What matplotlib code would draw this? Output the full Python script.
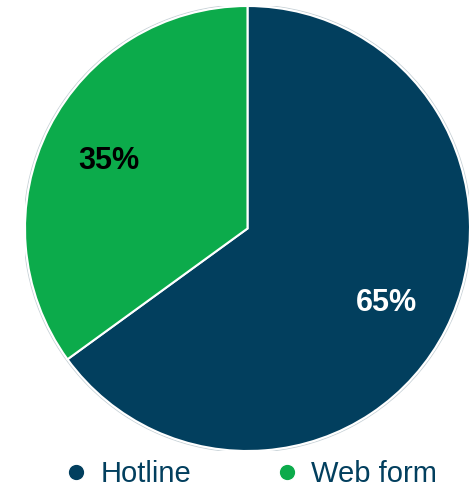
import matplotlib
matplotlib.use("Agg")
import matplotlib.pyplot as plt
from matplotlib.lines import Line2D
from matplotlib.patches import Circle

labels = ["Hotline", "Web form"]
shares = [65, 35]
colors = ["#023f5e", "#0cab4b"]
label_colors = ["white", "black"]
text_navy = "#023f5e"

plt.rcParams["font.family"] = ["Liberation Sans", "DejaVu Sans"]

fig = plt.figure(figsize=(4.69, 4.91), dpi=100)
ax = fig.add_axes([25 / 469, (491 - 451) / 491, 445 / 469, 445 / 491])

wedges, texts, autotexts = ax.pie(
    shares, colors=colors, startangle=90, counterclock=False,
    autopct="%d%%", pctdistance=0.70, radius=1,
    wedgeprops=dict(edgecolor="white", linewidth=1.5),
)
for t, c in zip(autotexts, label_colors):
    t.set_color(c)
    t.set_fontsize(22)
    t.set_fontweight("bold")
    x, y = t.get_position()
    t.set_position((x, y - 0.016))

ax.add_patch(Circle((0, 0), 1.006, fill=False, edgecolor="#c9d3d8", linewidth=0.8, zorder=0))
ax.set_xlim(-1.0, 1.0)
ax.set_ylim(-1.0, 1.0)
ax.set_aspect("equal")
ax.axis("off")

handles = [Line2D([], [], linestyle="none", marker="o", markersize=12,
                  markerfacecolor=c, markeredgecolor="white", markeredgewidth=1)
           for c in colors]
leg = fig.legend(handles, labels, loc="center", bbox_to_anchor=(0.535, 0.034),
                 ncol=2, frameon=False, fontsize=21, handlelength=0.8,
                 handletextpad=0.42, columnspacing=2.9, labelcolor=text_navy)

fig.savefig("out.png", dpi=100)
